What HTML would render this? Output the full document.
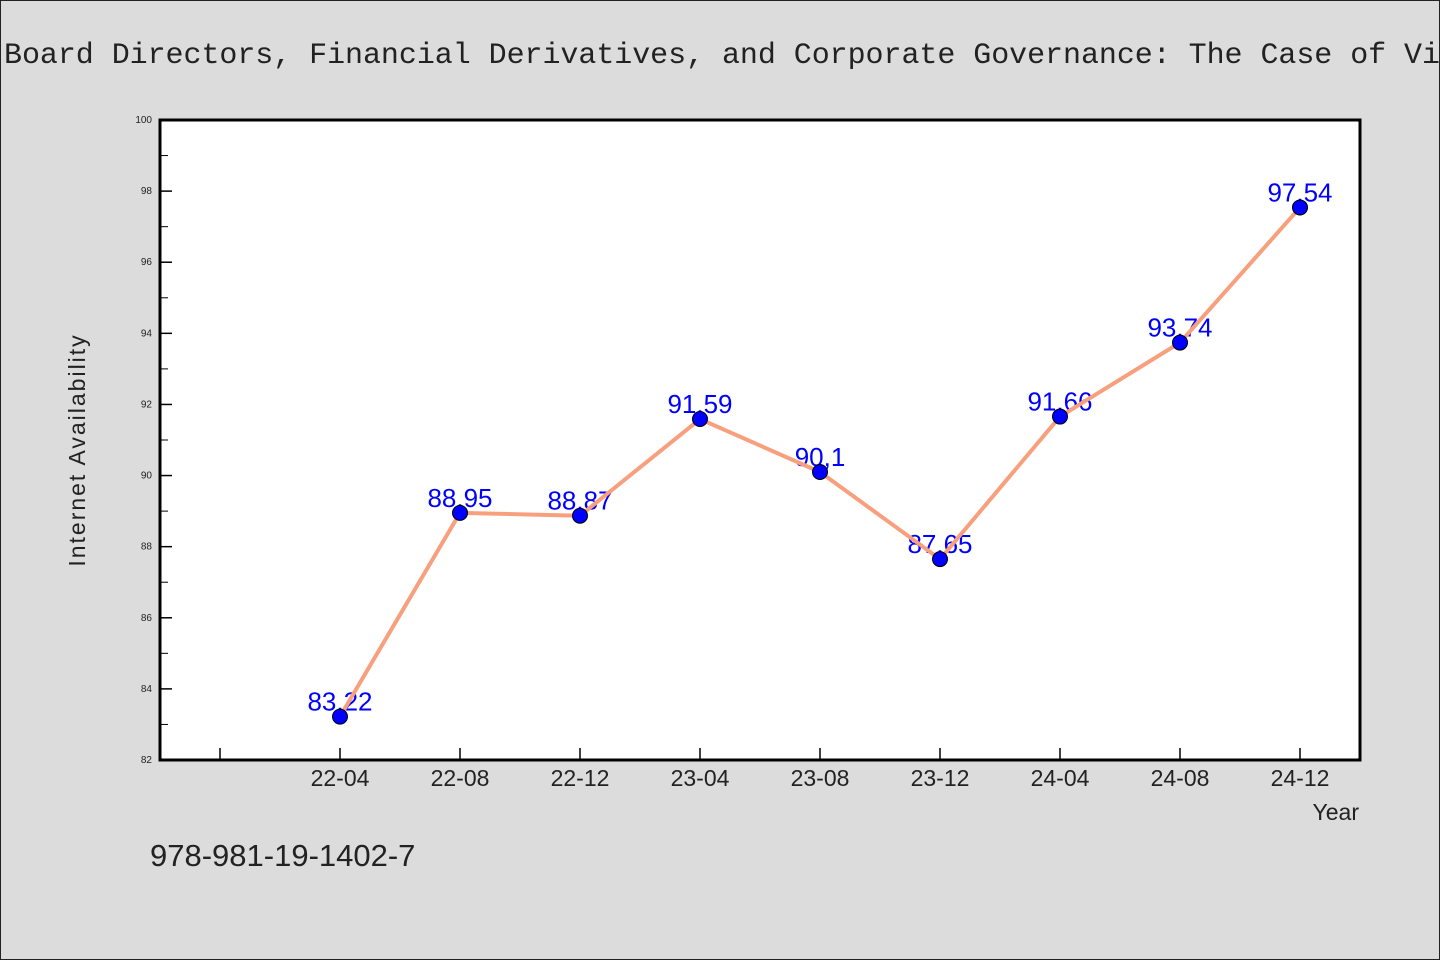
<!DOCTYPE html>
<html><head><meta charset="utf-8"><style>
html,body{margin:0;padding:0;background:#dcdcdc;}
svg{display:block;}
text{font-family:"WenQuanYi Zen Hei","Liberation Sans",sans-serif;}
</style></head><body>
<svg id="chart" width="1440" height="960" xmlns="http://www.w3.org/2000/svg">
<rect x="0.5" y="0.5" width="1439" height="959" fill="#dcdcdc" stroke="#222" stroke-width="1"/>
<text x="4" y="63" font-size="30" fill="#222" textLength="1436" lengthAdjust="spacing" style="font-family:'Liberation Mono','WenQuanYi Zen Hei',monospace">Board Directors, Financial Derivatives, and Corporate Governance: The Case of Vi</text>
<rect x="160" y="120" width="1200" height="640" fill="#fff" stroke="#000" stroke-width="3"/>
<g id="axes"></g>
<g id="labels"></g>
<g id="series"></g>
<text transform="translate(85,450) rotate(-90)" text-anchor="middle" font-size="23" fill="#222" letter-spacing="2">Internet Availability</text>
<text x="1359" y="820" text-anchor="end" font-size="23" fill="#222">Year</text>
<text x="150" y="866" font-size="31" fill="#222">978-981-19-1402-7</text>
</svg>
<script>
const categories = ["22-04","22-08","22-12","23-04","23-08","23-12","24-04","24-08","24-12"];
const values = [83.22,88.95,88.87,91.59,90.1,87.65,91.66,93.74,97.54];
const valueLabels = ["83,22","88,95","88,87","91,59","90,1","87,65","91,66","93,74","97,54"];
const yTicks = [82,84,86,88,90,92,94,96,98,100];
const yMin = 82, yMax = 100;
const NS = "http://www.w3.org/2000/svg";
function xs(i){ return 340 + 120*i; }
function ys(v){ return 760 - (v - yMin) / (yMax - yMin) * 640; }
function mk(tag, attrs, parent){ const e=document.createElementNS(NS,tag); for(const k in attrs) e.setAttribute(k,attrs[k]); parent.appendChild(e); return e; }
const axes=document.getElementById('axes'), labels=document.getElementById('labels'), series=document.getElementById('series');
yTicks.forEach(t=>{
  const y=ys(t);
  const l=mk('line',{x1:160,x2:172,y1:y,y2:y,stroke:'#000','stroke-width':1.5},axes);
  
  
  const tx=mk('text',{x:152,y:y+3,'text-anchor':'end','font-size':10,fill:'#222'},axes);
  tx.textContent=t;
  
  
  if(t<yMax){ const ym=ys(t+1);
    const m=mk('line',{x1:160,x2:168,y1:ym,y2:ym,stroke:'#000','stroke-width':1},axes);
    
     }
});
for(let i=-1;i<categories.length;i++){
  const x=xs(i);
  const l=mk('line',{x1:x,x2:x,y1:760,y2:748,stroke:'#000','stroke-width':1.5},axes);
  
  
  if(i>=0){ const tx=mk('text',{x:x,y:786,'text-anchor':'middle','font-size':23,fill:'#222'},axes);
    tx.textContent=categories[i];
    
     }
}
values.forEach((v,i)=>{
  const t=mk('text',{x:xs(i),y:ys(v)-6,'text-anchor':'middle','font-size':26,fill:'#0000ff'},labels);
  t.textContent=valueLabels[i];
  
  
});
const pts=values.map((v,i)=>xs(i)+','+ys(v)).join(' ');
const pl=mk('polyline',{points:pts,fill:'none',stroke:'#f8a07e','stroke-width':4,'stroke-linejoin':'round'},series);


values.forEach((v,i)=>{
  const c=mk('circle',{cx:xs(i),cy:ys(v),r:7.5,fill:'#0000ff',stroke:'#000','stroke-width':1},series);
  
  
});
</script>
</body></html>
